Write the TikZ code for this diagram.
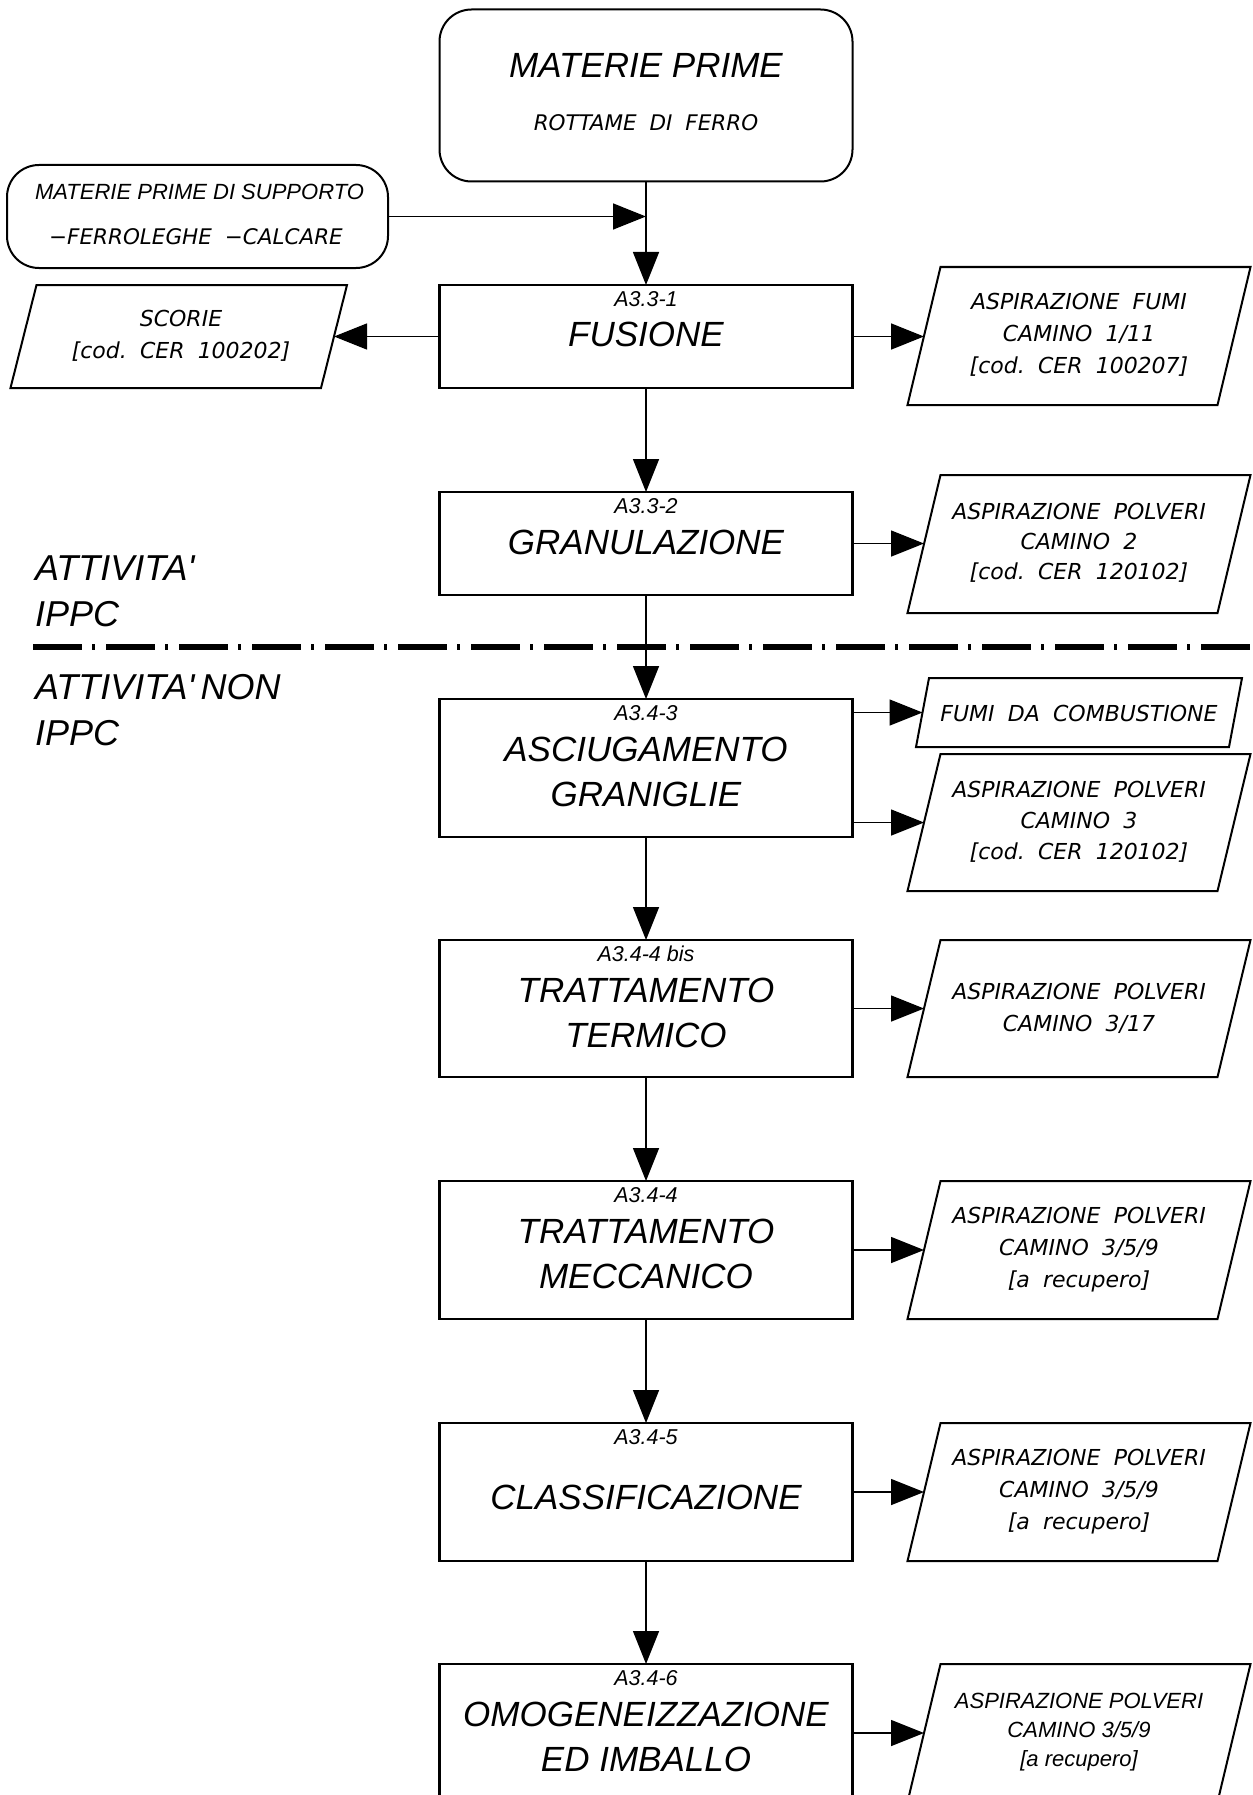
\documentclass[tikz,border=0pt]{standalone}
\usepackage{fontspec}
\usetikzlibrary{arrows.meta}
\newfontfamily\arialf{Liberation Sans}
\newfontfamily\cadf{DejaVu Sans}
\newcommand\gp{\hspace{0.6em}}
\newcommand\apos{\symbol{39}}
\newcommand\parashape[2]{\draw[pline] ([xshift=#2pt]#1.north west) -- ([xshift=#2pt]#1.north east) -- ([xshift=-#2pt]#1.south east) -- ([xshift=-#2pt]#1.south west) -- cycle;}
\begin{document}
\begin{tikzpicture}[x=1pt,y=-1pt,
  every node/.style={inner sep=0pt, outer sep=0pt},
  procbox/.style={draw, line width=2.4pt, minimum width=413pt},
  rbox/.style={draw, line width=2pt, rounded corners=32pt},
  parabox/.style={minimum width=310pt},
  ttl/.style={font=\arialf\itshape\fontsize{35}{45}\selectfont, align=center},
  lbl/.style={font=\arialf\itshape\fontsize{21.5}{24}\selectfont},
  ptxt/.style={font=\cadf\itshape\fontsize{22}{31}\selectfont, align=center},
  ptxtw/.style={font=\cadf\itshape\fontsize{22}{32}\selectfont, align=center},
  atxt/.style={font=\arialf\itshape\fontsize{22}{27}\selectfont, align=center},
  sidetxt/.style={font=\arialf\itshape\fontsize{36}{46}\selectfont, align=left},
  conn/.style={line width=1.5pt, -{Triangle[length=33pt,width=26pt]}},
  pline/.style={line width=2pt, line join=miter},
  sepline/.style={line width=6pt, dash pattern=on 49pt off 10pt on 3pt off 11pt}
]
\useasboundingbox (0,0) rectangle (1252,1795);
\fill[white] (0,0) rectangle (1252,1795);
\clip (0,0) rectangle (1252,1795);

% ---------- top ----------
\node[rbox, minimum width=413pt, minimum height=172pt] (mp) at (646,95.5) {};
\node[font=\arialf\itshape\fontsize{35}{40}\selectfont] (mpt) at (646,65) {MATERIE PRIME};
\node[font=\cadf\itshape\fontsize{21.5}{30}\selectfont] (mps) at (646,122.5) {ROTTAME\gp DI\gp FERRO};

\node[rbox, minimum width=381pt, minimum height=103pt] (sup) at (197.5,216.5) {};
\node[atxt] (sup1) at (199.5,192) {MATERIE PRIME DI SUPPORTO};
\node[font=\cadf\itshape\fontsize{21.5}{30}\selectfont] (sup2) at (196,237) {−FERROLEGHE\gp −CALCARE};

% ---------- FUSIONE ----------
\node[procbox, minimum height=103pt] (fus) at (646,336.5) {};
\node[lbl] (fusl) at (646,299) {A3.3-1};
\node[ttl] (fust) at (646,334.5) {FUSIONE};

\node[parabox, minimum width=310.5pt, minimum height=103pt] (sc) at (178.75,336.5) {};
\parashape{sc}{13}
\node[ptxt, font=\cadf\itshape\fontsize{22}{32}\selectfont] (sct) at (181,336) {SCORIE\\{[}cod.\gp CER\gp 100202{]}};

\node[parabox, minimum height=138pt] (p1) at (1079,336) {};
\parashape{p1}{16.5}
\node[ptxtw] (p1t) at (1079,335) {ASPIRAZIONE\gp FUMI\\CAMINO\gp 1/11\\{[}cod.\gp CER\gp 100207{]}};

% ---------- GRANULAZIONE ----------
\node[procbox, minimum height=103pt] (gran) at (646,543.5) {};
\node[lbl] (granl) at (646,506) {A3.3-2};
\node[ttl] (grant) at (646,542) {GRANULAZIONE};

\node[parabox, minimum height=138pt] (p2) at (1079,544) {};
\parashape{p2}{16.5}
\node[ptxt, font=\cadf\itshape\fontsize{22}{30}\selectfont] (p2t) at (1079,543) {ASPIRAZIONE\gp POLVERI\\CAMINO\gp 2\\{[}cod.\gp CER\gp 120102{]}};

% ---------- separator and side labels ----------
\draw[sepline] (33,647) -- (1270,647);
\node[sidetxt, anchor=north west] (ippc) at (35,556) {ATTIVITA\apos\\IPPC};
\node[sidetxt, anchor=north west] (nonippc) at (35,674) {ATTIVITA\apos\,NON\\IPPC};

% ---------- ASCIUGAMENTO ----------
\node[procbox, minimum height=138pt] (asc) at (646,768) {};
\node[lbl] (ascl) at (646,713) {A3.4-3};
\node[ttl] (asct) at (646,771.5) {ASCIUGAMENTO\\GRANIGLIE};

\node[parabox, minimum width=313pt, minimum height=69pt] (p3a) at (1079,712.5) {};
\parashape{p3a}{6.5}
\node[ptxt] (p3at) at (1079,713) {FUMI\gp DA\gp COMBUSTIONE};

\node[parabox, minimum height=137pt] (p3b) at (1079,822.5) {};
\parashape{p3b}{16.5}
\node[ptxt] (p3bt) at (1079,822) {ASPIRAZIONE\gp POLVERI\\CAMINO\gp 3\\{[}cod.\gp CER\gp 120102{]}};

% ---------- TRATTAMENTO TERMICO ----------
\node[procbox, minimum height=137pt] (term) at (646,1008.5) {};
\node[lbl] (terml) at (646,954) {A3.4-4 bis};
\node[ttl] (termt) at (646,1012.5) {TRATTAMENTO\\TERMICO};

\node[parabox, minimum height=137pt] (p4) at (1079,1008.5) {};
\parashape{p4}{16.5}
\node[ptxtw] (p4t) at (1079,1008) {ASPIRAZIONE\gp POLVERI\\CAMINO\gp 3/17};

% ---------- TRATTAMENTO MECCANICO ----------
\node[procbox, minimum height=138pt] (mecc) at (646,1250) {};
\node[lbl] (meccl) at (646,1195) {A3.4-4};
\node[ttl] (mecct) at (646,1254) {TRATTAMENTO\\MECCANICO};

\node[parabox, minimum height=138pt] (p5) at (1079,1250) {};
\parashape{p5}{16.5}
\node[ptxtw] (p5t) at (1079,1250) {ASPIRAZIONE\gp POLVERI\\CAMINO\gp 3/5/9\\{[}a\gp recupero{]}};

% ---------- CLASSIFICAZIONE ----------
\node[procbox, minimum height=138pt] (cls) at (646,1492) {};
\node[lbl] (clsl) at (646,1437) {A3.4-5};
\node[ttl] (clst) at (646,1497.5) {CLASSIFICAZIONE};

\node[parabox, minimum height=138pt] (p6) at (1079,1492) {};
\parashape{p6}{16.5}
\node[ptxtw] (p6t) at (1079,1492) {ASPIRAZIONE\gp POLVERI\\CAMINO\gp 3/5/9\\{[}a\gp recupero{]}};

% ---------- OMOGENEIZZAZIONE ----------
\node[procbox, minimum height=138pt] (omo) at (646,1733) {};
\node[lbl] (omol) at (646,1678) {A3.4-6};
\node[ttl] (omot) at (646,1737) {OMOGENEIZZAZIONE\\ED IMBALLO};

\node[parabox, minimum height=138pt] (p7) at (1079,1733) {};
\parashape{p7}{16.5}
\node[atxt, font=\arialf\itshape\fontsize{22}{29}\selectfont] (p7t) at (1079,1732) {ASPIRAZIONE POLVERI\\CAMINO 3/5/9\\{[}a recupero{]}};

% ---------- connectors ----------
\draw[conn] (mp) -- (fus);
\draw[conn] (sup.east) -- (sup.east -| fus.north);
\draw[conn] (fus) -- (sc);
\draw[conn] (fus.east) -- (fus.east -| p1.west);
\draw[conn] (fus) -- (gran);
\draw[conn] (gran.east) -- (gran.east -| p2.west);
\draw[conn] (gran) -- (asc);
\draw[conn] (asc.east |- p3a.west) -- (p3a.west);
\draw[conn] (asc.east |- p3b.west) -- (p3b.west);
\draw[conn] (asc) -- (term);
\draw[conn] (term.east) -- (p4.west);
\draw[conn] (term) -- (mecc);
\draw[conn] (mecc.east) -- (p5.west);
\draw[conn] (mecc) -- (cls);
\draw[conn] (cls.east) -- (p6.west);
\draw[conn] (cls) -- (omo);
\draw[conn] (omo.east) -- (p7.west);
\end{tikzpicture}
\end{document}
